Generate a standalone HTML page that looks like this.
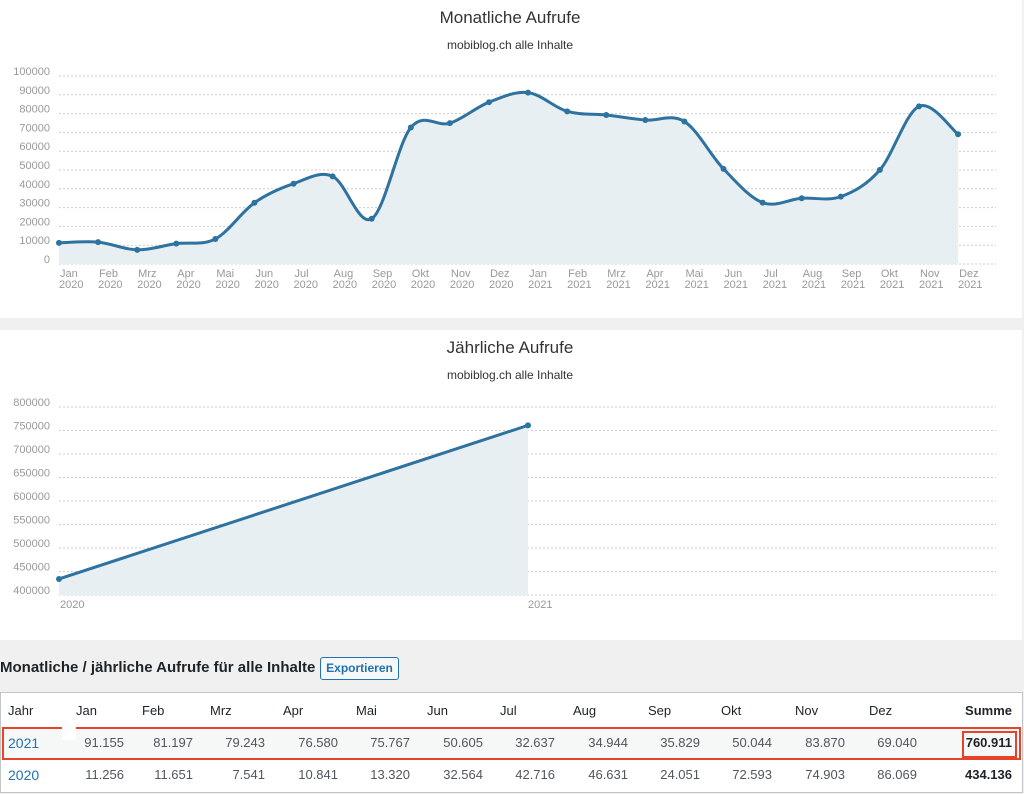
<!DOCTYPE html>
<html><head><meta charset="utf-8">
<style>
body{margin:0;width:1024px;height:794px;background:#f0f0f1;font-family:"Liberation Sans",sans-serif;position:relative;overflow:hidden}
.panel{position:absolute;left:0;width:1022px;background:#fff}
.t{position:absolute;white-space:nowrap}
.r{position:absolute;white-space:nowrap;text-align:right;font-size:13px;color:#50575e}
</style></head><body>
<div class="panel" style="top:0;height:318px"></div>
<div class="panel" style="top:330px;height:310px"></div>
<svg id="s" width="1024" height="794" style="position:absolute;left:0;top:0" font-family="Liberation Sans, sans-serif"></svg>

<div class="t" style="left:0;top:659px;font-size:15px;font-weight:bold;color:#1d2327">Monatliche / jährliche Aufrufe für alle Inhalte</div>
<div class="t" style="left:320px;top:657px;width:77px;height:21px;border:1px solid #2271b1;border-radius:3px;background:#f6f7f7;color:#2271b1;font-size:12px;font-weight:bold;text-align:center;line-height:21px">Exportieren</div>

<div style="position:absolute;left:0;top:692px;width:1021px;height:99px;background:#fff;border:1px solid #c3c4c7"></div>
<div style="position:absolute;left:1px;top:727px;width:1020px;height:32px;background:#f6f7f7"></div>
<div style="position:absolute;left:2px;top:727px;width:1015px;height:29px;border:2px solid #e5442a"></div>
<div style="position:absolute;left:962px;top:731px;width:51px;height:23px;border:2px solid #e5442a"></div>
<div style="position:absolute;left:62px;top:705px;width:14px;height:35px;background:#fff"></div>

<div id="tbl"></div>

<script>
const s=document.getElementById('s');let h='';
// Chart 1
h+='<text x="510" y="23" font-size="17" fill="#333" text-anchor="middle">Monatliche Aufrufe</text>';
h+='<text x="510" y="49" font-size="12" fill="#333" text-anchor="middle">mobiblog.ch alle Inhalte</text>';
for(let i=0;i<=10;i++){let y=264-i*18.8;h+=`<line x1="59" x2="996" y1="${y}" y2="${y}" stroke="#ccc" stroke-dasharray="2,2"/>`;
h+=`<text x="50" y="${y-1}" font-size="11" fill="#999" text-anchor="end">${i*10000}</text>`;}
const v=[11256,11651,7541,10841,13320,32564,42716,46631,24051,72593,74903,86069,91155,81197,79243,76580,75767,50605,32637,34944,35829,50044,83870,69040];
const m=['Jan','Feb','Mrz','Apr','Mai','Jun','Jul','Aug','Sep','Okt','Nov','Dez'];
const P=v.map((a,i)=>[59+i*39.09,264-a*0.00188]);
function curve(p){let d=`M${p[0][0]},${p[0][1]}`;for(let i=0;i<p.length-1;i++){const p0=p[i-1]||p[i],p1=p[i],p2=p[i+1],p3=p[i+2]||p2;
const c1=[p1[0]+(p2[0]-p0[0])/6,p1[1]+(p2[1]-p0[1])/6],c2=[p2[0]-(p3[0]-p1[0])/6,p2[1]-(p3[1]-p1[1])/6];
d+=`C${c1[0]},${c1[1]} ${c2[0]},${c2[1]} ${p2[0]},${p2[1]}`;}return d;}
const d=curve(P);
h+=`<path d="${d} L958,264 L59,264Z" fill="#e8eff3"/>`;
h+=`<path d="${d}" fill="none" stroke="#2e72a0" stroke-width="3"/>`;
P.forEach((p,i)=>{h+=`<circle cx="${p[0]}" cy="${p[1]}" r="3" fill="#2e72a0"/>`;
h+=`<text x="${p[0]+1}" y="277" font-size="11" fill="#999">${m[i%12]}</text><text x="${p[0]}" y="288" font-size="11" fill="#999">${i<12?2020:2021}</text>`;});
// Chart 2
h+='<text x="510" y="353" font-size="17" fill="#333" text-anchor="middle">Jährliche Aufrufe</text>';
h+='<text x="510" y="379" font-size="12" fill="#333" text-anchor="middle">mobiblog.ch alle Inhalte</text>';
for(let i=0;i<=8;i++){let y=595-i*23.5;h+=`<line x1="59" x2="996" y1="${y}" y2="${y}" stroke="#ccc" stroke-dasharray="2,2"/>`;
h+=`<text x="50" y="${y-1}" font-size="11" fill="#999" text-anchor="end">${400000+i*50000}</text>`;}
const y20=595-34136*0.00047,y21=595-360911*0.00047;
h+=`<path d="M59,${y20} L528,${y21} L528,595 L59,595Z" fill="#e8eff3"/>`;
h+=`<line x1="59" y1="${y20}" x2="528" y2="${y21}" stroke="#2e72a0" stroke-width="3"/>`;
h+=`<circle cx="59" cy="${y20}" r="3" fill="#2e72a0"/><circle cx="528" cy="${y21}" r="3" fill="#2e72a0"/>`;
h+=`<text x="60" y="608" font-size="11" fill="#999">2020</text><text x="528" y="608" font-size="11" fill="#999">2021</text>`;
s.innerHTML=h;
// table
let t='';
const hx=[76,142,210,283,356,427,500,573,648,721,795,869];
const rx=[124,193,265,338,410,483,555,628,700,772,845,917];
t+=`<div class="t" style="left:8px;top:703px;font-size:13px;color:#1d2327">Jahr</div>`;
m.forEach((n,i)=>t+=`<div class="t" style="left:${hx[i]}px;top:703px;font-size:13px;color:#1d2327">${n}</div>`);
t+=`<div class="r" style="right:12px;top:703px;font-weight:bold;color:#1d2327">Summe</div>`;
const r21=['91.155','81.197','79.243','76.580','75.767','50.605','32.637','34.944','35.829','50.044','83.870','69.040'];
const r20=['11.256','11.651','7.541','10.841','13.320','32.564','42.716','46.631','24.051','72.593','74.903','86.069'];
[[r21,735,'2021','760.911'],[r20,767,'2020','434.136']].forEach(([r,y,yr,sum])=>{
t+=`<div class="t" style="left:8px;top:${y}px;font-size:14px;color:#2271b1">${yr}</div>`;
r.forEach((x,i)=>t+=`<div class="r" style="right:${1024-rx[i]}px;top:${y}px">${x}</div>`);
t+=`<div class="r" style="right:12px;top:${y}px;font-weight:bold;color:#1d2327">${sum}</div>`;});
document.getElementById('tbl').innerHTML=t;
</script>
</body></html>
